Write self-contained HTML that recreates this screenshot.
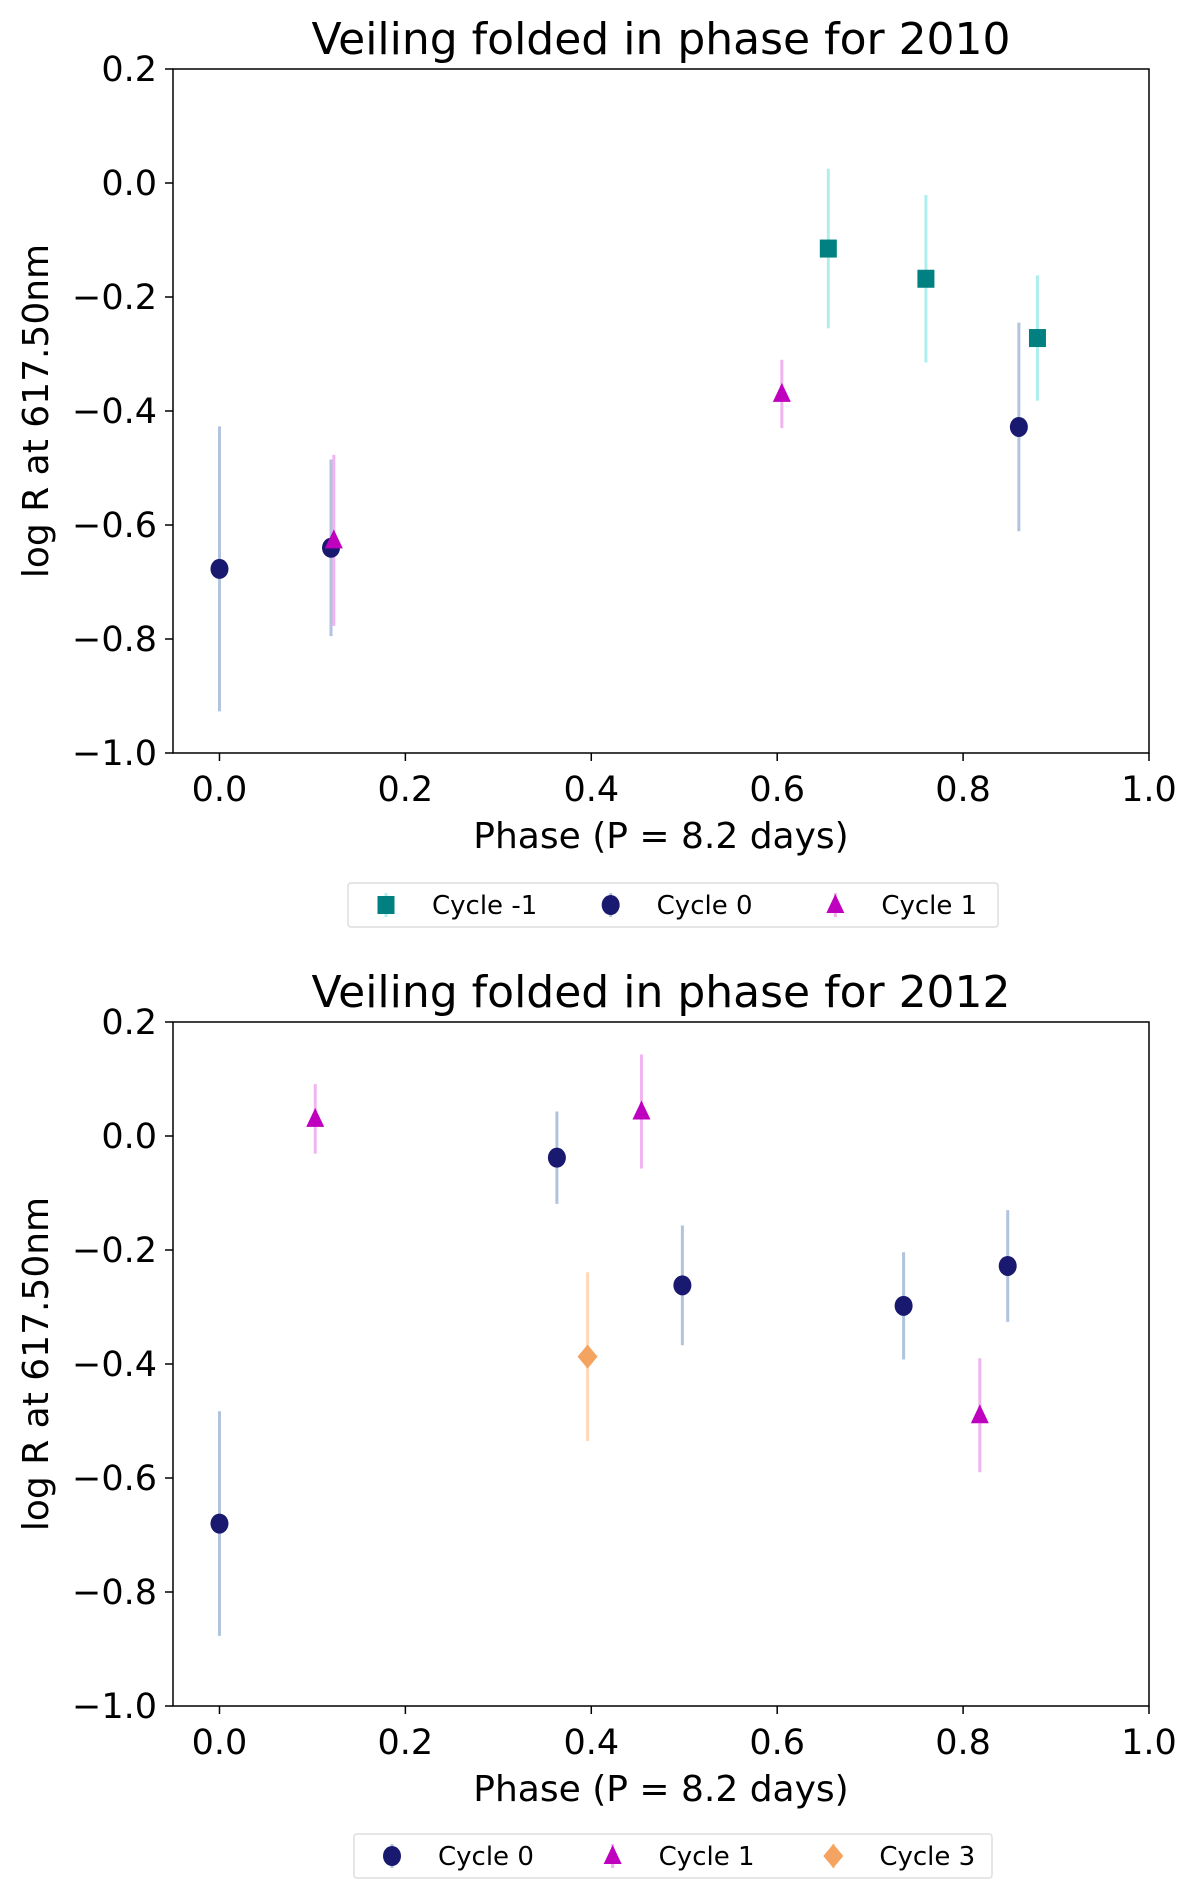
<!DOCTYPE html>
<html><head><meta charset="utf-8"><style>
html,body{margin:0;padding:0;background:#fff;}
svg{display:block;font-family:"DejaVu Sans","Liberation Sans",sans-serif;}
</style></head><body>
<svg id="fig" width="1200" height="1900" viewBox="0 0 1200 1900" xmlns="http://www.w3.org/2000/svg"></svg>
<script>
// ---- data: 2010 ----
const p2010_cm1_x = [0.655, 0.76, 0.88];
const p2010_cm1_y = [-0.115, -0.168, -0.272];
const p2010_cm1_e = [0.14, 0.147, 0.11];
const p2010_c0_x = [0.0, 0.12, 0.86];
const p2010_c0_y = [-0.677, -0.64, -0.428];
const p2010_c0_e = [0.25, 0.155, 0.183];
const p2010_c1_x = [0.123, 0.605];
const p2010_c1_y = [-0.627, -0.37];
const p2010_c1_e = [0.15, 0.06];
// ---- data: 2012 ----
const p2012_c0_x = [0.0, 0.363, 0.498, 0.736, 0.848];
const p2012_c0_y = [-0.68, -0.038, -0.262, -0.298, -0.228];
const p2012_c0_e = [0.197, 0.081, 0.105, 0.094, 0.098];
const p2012_c1_x = [0.103, 0.454, 0.818];
const p2012_c1_y = [0.03, 0.043, -0.49];
const p2012_c1_e = [0.061, 0.1, 0.1];
const p2012_c3_x = [0.396];
const p2012_c3_y = [-0.387];
const p2012_c3_e = [0.148];
const xTicks = [0.0, 0.2, 0.4, 0.6, 0.8, 1.0];
const yTicks = [0.2, 0.0, -0.2, -0.4, -0.6, -0.8, -1.0];

const NS = "http://www.w3.org/2000/svg";
const svg = document.getElementById('fig');
function mk(tag, attrs, parent) {
  const e = document.createElementNS(NS, tag);
  for (const k in attrs) e.setAttribute(k, attrs[k]);
  (parent || svg).appendChild(e);
  return e;
}
function fmt(v) { return (v < 0 ? "\u2212" : "") + Math.abs(v).toFixed(1); }

const STY = {
  cm1: {c: "#008080", e: "#afeeee", m: "square"},
  c0: {c: "#191970", e: "#b0c4de", m: "circle"},
  c1: {c: "#bf00bf", e: "#f0b4f0", m: "triangle"},
  c3: {c: "#f4a460", e: "#ffdab9", m: "diamond"}
};

function marker(g, type, cx, cy, color, name) {
  let el;
  if (type === "circle") el = mk("ellipse", {cx: cx, cy: cy, rx: 9, ry: 10, fill: color}, g);
  else if (type === "square") el = mk("rect", {x: cx - 8.5, y: cy - 9, width: 17, height: 18, fill: color}, g);
  else if (type === "triangle") el = mk("polygon", {points: `${cx},${cy - 11} ${cx - 9},${cy + 8} ${cx + 9},${cy + 8}`, fill: color}, g);
  else el = mk("polygon", {points: `${cx},${cy - 12} ${cx + 10},${cy} ${cx},${cy + 12} ${cx - 10},${cy}`, fill: color}, g);
  
  
  return el;
}

function panel(top, title, series, legendItems, legendBox) {
  const L = 173, R = 1149, T = top, B = top + 684;
  const sx = v => L + (v + 0.05) / 1.05 * (R - L);
  const sy = v => B - (v + 1.0) / 1.2 * (B - T);
  const g = mk("g", {});
  
  
  const t = mk("text", {x: (L + R) / 2, y: T - 15, "text-anchor": "middle", "font-size": 44, fill: "#000"}, g);
  t.textContent = title;
  
  
  xTicks.forEach(v => {
    const x = sx(v);
    mk("line", {x1: x, x2: x, y1: B, y2: B + 8, stroke: "#000", "stroke-width": 1.5}, g);
    const tx = mk("text", {x: x, y: B + 48, "text-anchor": "middle", "font-size": 35}, g);
    tx.textContent = v.toFixed(1);
    
    
  });
  yTicks.forEach(v => {
    const y = sy(v);
    mk("line", {x1: L - 8, x2: L, y1: y, y2: y, stroke: "#000", "stroke-width": 1.5}, g);
    const ty = mk("text", {x: L - 16, y: y + 12, "text-anchor": "end", "font-size": 35}, g);
    ty.textContent = fmt(v);
    
    
  });
  const xl = mk("text", {x: (L + R) / 2, y: B + 95, "text-anchor": "middle", "font-size": 36}, g);
  xl.textContent = "Phase (P = 8.2 days)";
  
  
  const yl = mk("text", {x: 0, y: 0, "text-anchor": "middle", "font-size": 36, transform: `translate(48,${(T + B) / 2}) rotate(-90)`}, g);
  yl.textContent = "log R at 617.50nm";
  
  
  series.forEach(s => {
    const st = STY[s.key];
    for (let i = 0; i < s.x.length; i++) {
      const x = sx(s.x[i]);
      const eb = mk("line", {x1: x, x2: x, y1: sy(s.y[i] + s.e[i]), y2: sy(s.y[i] - s.e[i]), stroke: st.e, "stroke-width": 3}, g);
      
      
    }
  });
  series.forEach(s => {
    const st = STY[s.key];
    for (let i = 0; i < s.x.length; i++) {
      marker(g, st.m, sx(s.x[i]), sy(s.y[i]), st.c, 'point-' + s.key);
    }
  });
  const frame = mk("rect", {x: L, y: T, width: R - L, height: B - T, fill: "none", stroke: "#000", "stroke-width": 1.5}, g);
  
  
  const lg = mk("g", {}, g);
  
  
  mk("rect", {x: legendBox[0], y: legendBox[1], width: legendBox[2], height: 44, rx: 3, fill: "#fff", stroke: "#ddd", "stroke-width": 1.5}, lg);
  const step = legendBox[2] / 3 + 8;
  legendItems.forEach((it, k) => {
    const mx = legendBox[0] + 38 + k * step, my = legendBox[1] + 22;
    const st = STY[it.key];
    mk("line", {x1: mx, x2: mx, y1: my - 12, y2: my + 12, stroke: st.e, "stroke-width": 3}, lg);
    marker(lg, st.m, mx, my, st.c, 'legend-marker-' + it.key);
    const lt = mk("text", {x: mx + 46, y: my + 9, "font-size": 26}, lg);
    lt.textContent = it.label;
    
    
  });
}

panel(69, "Veiling folded in phase for 2010", [
  {key: "cm1", x: p2010_cm1_x, y: p2010_cm1_y, e: p2010_cm1_e},
  {key: "c0", x: p2010_c0_x, y: p2010_c0_y, e: p2010_c0_e},
  {key: "c1", x: p2010_c1_x, y: p2010_c1_y, e: p2010_c1_e}
], [{key: "cm1", label: "Cycle -1"}, {key: "c0", label: "Cycle 0"}, {key: "c1", label: "Cycle 1"}], [348, 883, 650]);

panel(1022, "Veiling folded in phase for 2012", [
  {key: "c0", x: p2012_c0_x, y: p2012_c0_y, e: p2012_c0_e},
  {key: "c1", x: p2012_c1_x, y: p2012_c1_y, e: p2012_c1_e},
  {key: "c3", x: p2012_c3_x, y: p2012_c3_y, e: p2012_c3_e}
], [{key: "c0", label: "Cycle 0"}, {key: "c1", label: "Cycle 1"}, {key: "c3", label: "Cycle 3"}], [354, 1834, 638]);
</script>
</body></html>
